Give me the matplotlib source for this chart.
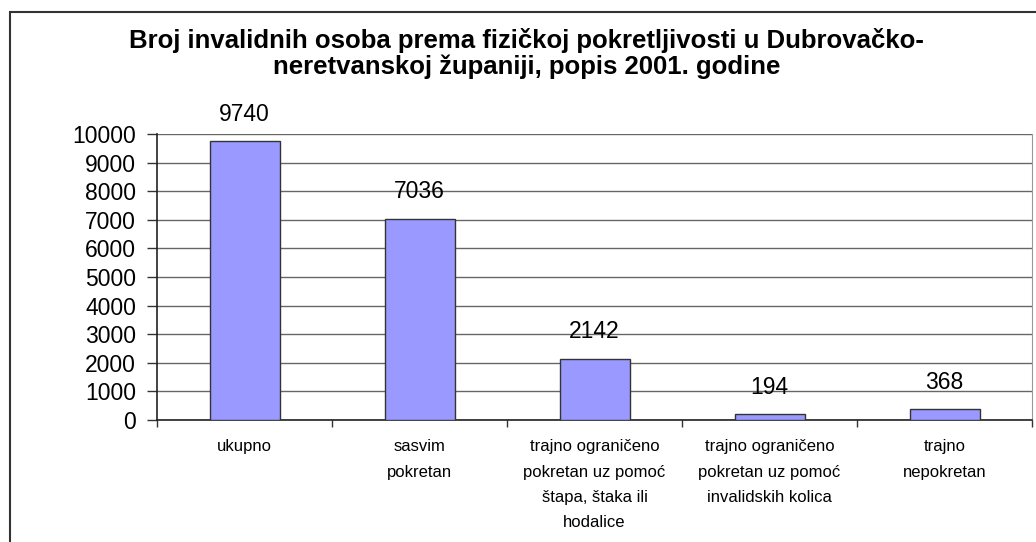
import numpy as np
import matplotlib
matplotlib.use("Agg")
import matplotlib.pyplot as plt
from matplotlib.patches import Rectangle

plt.rcParams['font.family'] = ['Liberation Sans', 'DejaVu Sans']

categories = ["ukupno",
              "sasvim\npokretan",
              "trajno ograničeno\npokretan uz pomoć\nštapa, štaka ili\nhodalice",
              "trajno ograničeno\npokretan uz pomoć\ninvalidskih kolica",
              "trajno\nnepokretan"]
values = [9740, 7036, 2142, 194, 368]
yticks = [0, 1000, 2000, 3000, 4000, 5000, 6000, 7000, 8000, 9000, 10000]
title = ("Broj invalidnih osoba prema fizičkoj pokretljivosti u Dubrovačko-\n"
         "neretvanskoj županiji, popis 2001. godine")


def main():
    fig = plt.figure(figsize=(10.36, 5.42), dpi=100)
    ax = fig.add_axes([157 / 1036, 1 - 420 / 542, (1032 - 157) / 1036, (420 - 134) / 542])

    # outer chart frame (cut off on right and bottom, like the source)
    frame = Rectangle((10 / 1036, -0.05), 1.2, 1.05 - 12 / 542, transform=fig.transFigure,
                      fill=False, edgecolor='#333333', linewidth=1.5, zorder=10)
    fig.patches.append(frame)

    x = np.arange(len(values))
    bars = ax.bar(x, values, width=0.4, color='#9999FF', edgecolor='#333333',
                  linewidth=1.0, zorder=3)

    for b, v in zip(bars, values):
        ax.annotate(str(v), (b.get_x() + b.get_width() / 2, v), xytext=(0, 15),
                    textcoords='offset points', ha='center', va='baseline',
                    fontsize=16.5)

    ax.set_xlim(-0.5, len(values) - 0.5)
    ax.set_ylim(0, 10000)
    ax.set_yticks(yticks)
    ax.set_yticklabels([str(t) for t in yticks], fontsize=16.5)
    ax.yaxis.grid(True, color='#666666', linewidth=1.0, zorder=0)

    ax.set_xticks(x)
    ax.set_xticklabels(categories, fontsize=12, linespacing=1.85, va='top')
    ax.set_xticks(np.arange(len(values) + 1) - 0.5, minor=True)
    ax.tick_params(axis='x', which='major', length=0, pad=14)
    ax.tick_params(axis='x', which='minor', length=5, width=1, color='#333333', direction='out')
    ax.tick_params(axis='y', length=7, width=1, color='#333333', pad=8)

    for s in ['left', 'bottom']:
        ax.spines[s].set_color('#222222')
        ax.spines[s].set_linewidth(1.2)
    ax.spines['top'].set_visible(False)
    ax.spines['right'].set_color('#999999')

    fig.text(0.508, 1 - 28 / 542, title, ha='center', va='top', fontsize=18.5,
             fontweight='bold', linespacing=1.1)

    plt.savefig("out.png", dpi=100)


if __name__ == "__main__":
    main()
